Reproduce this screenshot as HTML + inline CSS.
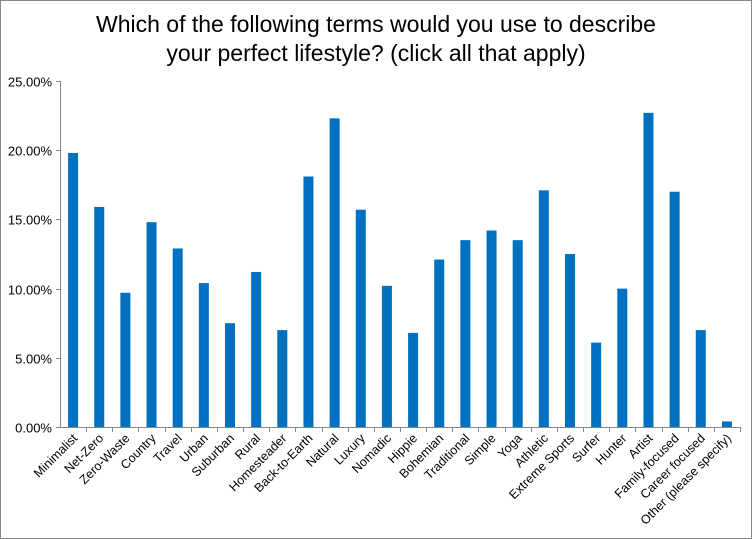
<!DOCTYPE html>
<html><head><meta charset="utf-8"><style>
body{margin:0;background:#fff;}
svg{display:block;font-family:"Liberation Sans",Arial,sans-serif;}
</style></head><body>
<svg id="chart" width="752" height="539">
<rect x="0.5" y="0.5" width="751" height="538" fill="#fff" stroke="#888"/>
<text x="376" y="32" text-anchor="middle" font-size="23" fill="#000">Which of the following terms would you use to describe</text>
<text x="376" y="61" text-anchor="middle" font-size="23" fill="#000">your perfect lifestyle? (click all that apply)</text>
<g id="axes"></g><g id="bars"></g><g id="labels"></g>
</svg>
<script>
const categories=["Minimalist","Net-Zero","Zero-Waste","Country","Travel","Urban","Suburban","Rural","Homesteader","Back-to-Earth","Natural","Luxury","Nomadic","Hippie","Bohemian","Traditional","Simple","Yoga","Athletic","Extreme Sports","Surfer","Hunter","Artist","Family-focused","Career focused","Other (please specify)"];
const values=[19.8,15.9,9.7,14.8,12.9,10.4,7.5,11.2,7.0,18.1,22.3,15.7,10.2,6.8,12.1,13.5,14.2,13.5,17.1,12.5,6.1,10.0,22.7,17.0,7.0,0.4];
const yTicks=[0,5,10,15,20,25];
const yTickLabels=["0.00%","5.00%","10.00%","15.00%","20.00%","25.00%"];
const NS="http://www.w3.org/2000/svg";
const x0=60,x1=740,y0=427,y1=81,yMax=25;
const bw=(x1-x0)/categories.length;
const y=v=>y0-(v/yMax)*(y0-y1);
const xc=i=>x0+bw*(i+0.5);
function mk(t,a,p){const e=document.createElementNS(NS,t);for(const k in a)e.setAttribute(k,a[k]);p.appendChild(e);return e;}
const axes=document.getElementById('axes'),bars=document.getElementById('bars'),labels=document.getElementById('labels');
yTicks.forEach((t,i)=>{
 const yy=Math.round(y(t))+0.5;
 const l=mk('line',{x1:x0-4,x2:x0,y1:yy,y2:yy,stroke:'#868686'},axes);
 
 
 const tx=mk('text',{x:x0-8,y:yy+5,'text-anchor':'end','font-size':13,fill:'#000'},axes);
 tx.textContent=yTickLabels[i];
 
 
});
const ya=mk('line',{x1:x0+0.5,x2:x0+0.5,y1:y1,y2:y0,stroke:'#868686'},axes);


const xa=mk('line',{x1:x0,x2:x1,y1:y0+0.5,y2:y0+0.5,stroke:'#868686'},axes);


categories.forEach((c,i)=>{
 const tx0=Math.round(x0+bw*(i+1))+0.5;
 const tk=mk('line',{x1:tx0,x2:tx0,y1:y0,y2:y0+5,stroke:'#868686'},axes);
 
 
 const b=mk('rect',{x:xc(i)-5,y:y(values[i]),width:10,height:y0-y(values[i]),fill:'#0070c0'},bars);
 
 
 const lx=xc(i)+5,ly=y0+12;
 const t=mk('text',{x:lx,y:ly,'text-anchor':'end','font-size':12.5,fill:'#000',transform:`rotate(-45 ${lx} ${ly})`},labels);
 t.textContent=c;
 
 
});
</script>
</body></html>
